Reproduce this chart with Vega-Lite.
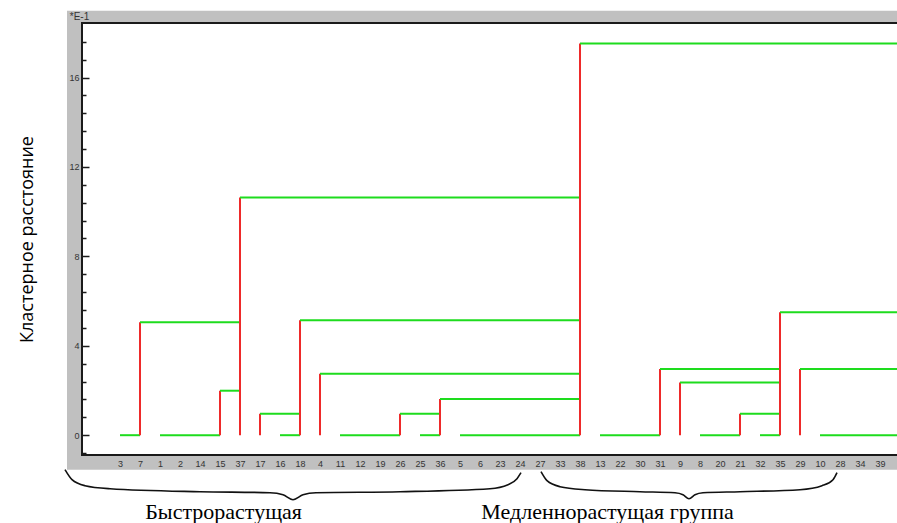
{
  "$schema": "https://vega.github.io/schema/vega-lite/v6.json",
  "width": 815,
  "height": 432,
  "autosize": {"type": "none"},
  "padding": {"left": 82, "top": 23, "right": 0, "bottom": 68},
  "background": "white",
  "config": {"view": {"stroke": null}},
  "resolve": {"axis": {"x": "independent", "y": "independent"}},
  "datasets": {
    "frame": [{"x0": -2.65, "x1": 38.85, "y0": -1.544, "y1": 18.99}],
    "plot": [{"x0": -1.9, "x1": 39.6, "y0": -0.886, "y1": 18.44}],
    "segs": [
      {"x": 0, "x2": 1, "y": 0, "y2": 0, "k": "h"},
      {"x": 1, "x2": 1, "y": 0, "y2": 5.05, "k": "v"},
      {"x": 1, "x2": 6, "y": 5.05, "y2": 5.05, "k": "h"},
      {"x": 2, "x2": 5, "y": 0, "y2": 0, "k": "h"},
      {"x": 5, "x2": 5, "y": 0, "y2": 1.99, "k": "v"},
      {"x": 5, "x2": 6, "y": 1.99, "y2": 1.99, "k": "h"},
      {"x": 6, "x2": 6, "y": 0, "y2": 10.63, "k": "v"},
      {"x": 6, "x2": 23, "y": 10.63, "y2": 10.63, "k": "h"},
      {"x": 7, "x2": 7, "y": 0, "y2": 0.96, "k": "v"},
      {"x": 7, "x2": 9, "y": 0.96, "y2": 0.96, "k": "h"},
      {"x": 8, "x2": 9, "y": 0, "y2": 0, "k": "h"},
      {"x": 9, "x2": 9, "y": 0, "y2": 5.14, "k": "v"},
      {"x": 9, "x2": 23, "y": 5.14, "y2": 5.14, "k": "h"},
      {"x": 10, "x2": 10, "y": 0, "y2": 2.75, "k": "v"},
      {"x": 10, "x2": 23, "y": 2.75, "y2": 2.75, "k": "h"},
      {"x": 11, "x2": 14, "y": 0, "y2": 0, "k": "h"},
      {"x": 14, "x2": 14, "y": 0, "y2": 0.96, "k": "v"},
      {"x": 14, "x2": 16, "y": 0.96, "y2": 0.96, "k": "h"},
      {"x": 15, "x2": 16, "y": 0, "y2": 0, "k": "h"},
      {"x": 16, "x2": 16, "y": 0, "y2": 1.62, "k": "v"},
      {"x": 16, "x2": 23, "y": 1.62, "y2": 1.62, "k": "h"},
      {"x": 17, "x2": 23, "y": 0, "y2": 0, "k": "h"},
      {"x": 23, "x2": 23, "y": 0, "y2": 17.52, "k": "v"},
      {"x": 23, "x2": 41, "y": 17.52, "y2": 17.52, "k": "h"},
      {"x": 24, "x2": 27, "y": 0, "y2": 0, "k": "h"},
      {"x": 27, "x2": 27, "y": 0, "y2": 2.96, "k": "v"},
      {"x": 27, "x2": 33, "y": 2.96, "y2": 2.96, "k": "h"},
      {"x": 28, "x2": 28, "y": 0, "y2": 2.36, "k": "v"},
      {"x": 28, "x2": 33, "y": 2.36, "y2": 2.36, "k": "h"},
      {"x": 29, "x2": 31, "y": 0, "y2": 0, "k": "h"},
      {"x": 31, "x2": 31, "y": 0, "y2": 0.96, "k": "v"},
      {"x": 31, "x2": 33, "y": 0.96, "y2": 0.96, "k": "h"},
      {"x": 32, "x2": 33, "y": 0, "y2": 0, "k": "h"},
      {"x": 33, "x2": 33, "y": 0, "y2": 5.5, "k": "v"},
      {"x": 33, "x2": 41, "y": 5.5, "y2": 5.5, "k": "h"},
      {"x": 34, "x2": 34, "y": 0, "y2": 2.96, "k": "v"},
      {"x": 34, "x2": 41, "y": 2.96, "y2": 2.96, "k": "h"},
      {"x": 35, "x2": 41, "y": 0, "y2": 0, "k": "h"}
    ],
    "braces": [
      {"b": "b1", "o": 1, "x": -2.75, "y": -1.544},
      {"b": "b1", "o": 2, "x": -2.4, "y": -1.991},
      {"b": "b1", "o": 3, "x": -1.75, "y": -2.26},
      {"b": "b1", "o": 4, "x": -0.5, "y": -2.394},
      {"b": "b1", "o": 5, "x": 4.0, "y": -2.528},
      {"b": "b1", "o": 6, "x": 7.5, "y": -2.573},
      {"b": "b1", "o": 7, "x": 8.15, "y": -2.662},
      {"b": "b1", "o": 8, "x": 8.65, "y": -2.886},
      {"b": "b1", "o": 9, "x": 9.15, "y": -2.662},
      {"b": "b1", "o": 10, "x": 9.8, "y": -2.573},
      {"b": "b1", "o": 11, "x": 14.0, "y": -2.528},
      {"b": "b1", "o": 12, "x": 18.5, "y": -2.394},
      {"b": "b1", "o": 13, "x": 19.4, "y": -2.215},
      {"b": "b1", "o": 14, "x": 19.85, "y": -1.946},
      {"b": "b1", "o": 15, "x": 20.05, "y": -1.678},
      {"b": "b2", "o": 1, "x": 21.05, "y": -1.633},
      {"b": "b2", "o": 2, "x": 21.35, "y": -2.036},
      {"b": "b2", "o": 3, "x": 22.0, "y": -2.304},
      {"b": "b2", "o": 4, "x": 23.25, "y": -2.438},
      {"b": "b2", "o": 5, "x": 26.0, "y": -2.528},
      {"b": "b2", "o": 6, "x": 27.75, "y": -2.573},
      {"b": "b2", "o": 7, "x": 28.15, "y": -2.662},
      {"b": "b2", "o": 8, "x": 28.45, "y": -2.841},
      {"b": "b2", "o": 9, "x": 28.75, "y": -2.662},
      {"b": "b2", "o": 10, "x": 29.15, "y": -2.573},
      {"b": "b2", "o": 11, "x": 31.0, "y": -2.528},
      {"b": "b2", "o": 12, "x": 34.0, "y": -2.438},
      {"b": "b2", "o": 13, "x": 35.1, "y": -2.26},
      {"b": "b2", "o": 14, "x": 35.65, "y": -1.991},
      {"b": "b2", "o": 15, "x": 35.85, "y": -1.678}
    ],
    "groups": [
      {"x": 5.18, "y": -3.736, "t": "Быстрорастущая"},
      {"x": 24.375, "y": -3.736, "t": "Медленнорастущая группа"}
    ],
    "unit": [{"x": -2.025, "y": 18.72, "t": "*E-1"}]
  },
  "layer": [
    {
      "data": {"name": "frame"},
      "mark": {"type": "rect", "fill": "#c0c0c0", "clip": false},
      "encoding": {
        "x": {
          "field": "x0", "type": "quantitative",
          "scale": {"domain": [-1.9, 38.85], "nice": false, "zero": false},
          "axis": {
            "orient": "bottom", "title": null, "domain": false, "ticks": false, "grid": false,
            "values": [0,1,2,3,4,5,6,7,8,9,10,11,12,13,14,15,16,17,18,19,20,21,22,23,24,25,26,27,28,29,30,31,32,33,34,35,36,37,38],
            "labelExpr": "['3','7','1','2','14','15','37','17','16','18','4','11','12','19','26','25','36','5','6','23','24','27','33','38','13','22','30','31','9','8','20','21','32','35','29','10','28','34','39','40'][datum.value]",
            "labelFont": "Liberation Sans", "labelFontSize": 9, "labelColor": "#333333",
            "labelPadding": 4, "labelAngle": 0, "labelOverlap": false, "labelFlush": false, "labelBound": false,
            "zindex": 2
          }
        },
        "x2": {"field": "x1"},
        "y": {
          "field": "y0", "type": "quantitative",
          "scale": {"domain": [-0.886, 18.44], "nice": false, "zero": false},
          "axis": {
            "orient": "left",
            "title": "Кластерное расстояние",
            "titleFont": "Open Sans", "titleFontSize": 18, "titleFontWeight": "normal", "titleColor": "#000000",
            "titlePadding": 32,
            "domain": false, "grid": false, "ticks": false,
            "values": [0, 4, 8, 12, 16],
            "labelFont": "Liberation Sans", "labelFontSize": 9, "labelColor": "#333333",
            "labelPadding": 3, "labelOverlap": false, "labelFlush": false, "labelBound": false,
            "zindex": 2
          }
        },
        "y2": {"field": "y1"}
      }
    },
    {
      "data": {"name": "plot"},
      "mark": {"type": "rect", "fill": "white", "stroke": "#1a1a1a", "strokeWidth": 2, "clip": false},
      "encoding": {
        "x": {"field": "x0", "type": "quantitative", "scale": {"domain": [-1.9, 38.85], "nice": false, "zero": false}, "axis": null},
        "x2": {"field": "x1"},
        "y": {
          "field": "y0", "type": "quantitative",
          "scale": {"domain": [-0.886, 18.44], "nice": false, "zero": false},
          "axis": {
            "orient": "left", "title": null, "labels": false, "domain": false, "grid": false,
            "values": [0, 4, 8, 12, 16],
            "tickSize": -7, "tickColor": "#1a1a1a", "tickWidth": 1.5,
            "zindex": 2
          }
        },
        "y2": {"field": "y1"}
      }
    },
    {
      "data": {"name": "segs"},
      "mark": {"type": "rule", "strokeWidth": 2, "clip": true},
      "encoding": {
        "x": {"field": "x", "type": "quantitative", "scale": {"domain": [-1.9, 38.85], "nice": false, "zero": false}, "axis": null},
        "x2": {"field": "x2"},
        "y": {
          "field": "y", "type": "quantitative",
          "scale": {"domain": [-0.886, 18.44], "nice": false, "zero": false},
          "axis": {
            "orient": "left", "title": null, "labels": false, "domain": false, "grid": false,
            "values": [-0.8,0.8,1.6,2.4,3.2,4.8,5.6,6.4,7.2,8.8,9.6,10.4,11.2,12.8,13.6,14.4,15.2,16.8,17.6],
            "tickSize": -4, "tickColor": "#1a1a1a", "tickWidth": 1.5,
            "zindex": 2
          }
        },
        "y2": {"field": "y2"},
        "color": {"field": "k", "type": "nominal", "scale": {"domain": ["h", "v"], "range": ["#1edc1e", "#ee2a2a"]}, "legend": null}
      }
    },
    {
      "data": {"name": "braces"},
      "mark": {"type": "line", "interpolate": "monotone", "color": "#111111", "strokeWidth": 1.6, "clip": false},
      "encoding": {
        "x": {"field": "x", "type": "quantitative", "scale": {"domain": [-1.9, 38.85], "nice": false, "zero": false}, "axis": null},
        "y": {"field": "y", "type": "quantitative", "scale": {"domain": [-0.886, 18.44], "nice": false, "zero": false}, "axis": null},
        "detail": {"field": "b", "type": "nominal"},
        "order": {"field": "o", "type": "quantitative"}
      }
    },
    {
      "data": {"name": "groups"},
      "mark": {"type": "text", "font": "Liberation Serif", "fontSize": 22, "color": "#000000", "align": "center", "baseline": "alphabetic", "clip": false},
      "encoding": {
        "x": {"field": "x", "type": "quantitative", "scale": {"domain": [-1.9, 38.85], "nice": false, "zero": false}, "axis": null},
        "y": {"field": "y", "type": "quantitative", "scale": {"domain": [-0.886, 18.44], "nice": false, "zero": false}, "axis": null},
        "text": {"field": "t", "type": "nominal"}
      }
    },
    {
      "data": {"name": "unit"},
      "mark": {"type": "text", "font": "Liberation Sans", "fontSize": 10, "color": "#333333", "align": "center", "baseline": "middle", "clip": false},
      "encoding": {
        "x": {"field": "x", "type": "quantitative", "scale": {"domain": [-1.9, 38.85], "nice": false, "zero": false}, "axis": null},
        "y": {"field": "y", "type": "quantitative", "scale": {"domain": [-0.886, 18.44], "nice": false, "zero": false}, "axis": null},
        "text": {"field": "t", "type": "nominal"}
      }
    }
  ]
}
